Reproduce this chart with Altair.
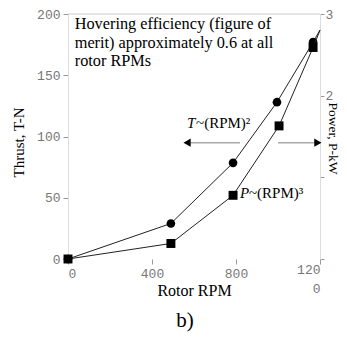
import altair as alt
import pandas as pd

# ---- data ----
rpm_thrust = [0, 490, 786, 995, 1167, 1200]
thrust_N = [0, 29, 78.5, 128, 177, 187]
rpm_power = [0, 490, 786, 1005, 1167, 1200]
power_kW = [0, 0.19, 0.78, 1.63, 2.59, 2.8]
marked = [True, True, True, True, True, False]

x_ticks = [0, 400, 800, 1200]
left_ticks = [0, 50, 100, 150, 200]
right_ticks = [0, 1, 2, 3]

hover_text = "Hovering efficiency (figure of\nmerit) approximately 0.6 at all\nrotor RPMs"
law_italic = ["T", "P"]
law_rest = ["~(RPM)²", "~(RPM)³"]
law_x = [567, 819]
law_T = [111, 54]

arrow_tip_x = [567, 1190]
arrow_tail_x = [819, 1000]
arrow_T = [95, 95]
arrow_shape = ["triangle-left", "triangle-right"]

serif = "'Liberation Serif', 'Times New Roman', 'DejaVu Serif', serif"
mono = "'Liberation Mono', 'DejaVu Sans Mono', monospace"

thrust = pd.DataFrame({"x": rpm_thrust, "T": thrust_N, "m": marked})
power = pd.DataFrame({"x": rpm_power, "P": power_kW, "m": marked})
laws = pd.DataFrame({"x": law_x, "T": law_T, "i": law_italic, "r": law_rest})
arrows = pd.DataFrame({"x": arrow_tip_x, "x2": arrow_tail_x, "T": arrow_T, "s": arrow_shape})
hover = pd.DataFrame({"x": [32], "T": [198], "t": [hover_text]})
top = pd.DataFrame({"x": [0], "x2": [1200], "T": [200]})

xs = alt.Scale(domain=[0, 1200], nice=False, zero=False)
ts = alt.Scale(domain=[0, 200], nice=False)
ps = alt.Scale(domain=[0, 3], nice=False)

x_axis = alt.Axis(values=x_ticks, domain=False, tickSize=5, tickColor="#999",
                  labelFont=mono, labelFontSize=13, labelColor="#777", labelLineHeight=19,
                  labelPadding={"condition": {"test": "datum.value == 1200", "value": -1}, "value": 3},
                  labelExpr="datum.value == 1200 ? ['120', '  0'] : datum.label",
                  title="Rotor RPM", titleFont=serif, titleFontSize=16,
                  titleFontWeight="normal", titleColor="black",
                  titleBaseline="middle", titleY=31)
left_axis = alt.Axis(values=left_ticks, tickSize=5, tickColor="#999", domainColor="#ddd",
                     labelFont=mono, labelFontSize=13, labelColor="#777", labelPadding=3,
                     title="Thrust, T-N", titleFont=serif, titleFontSize=15,
                     titleFontWeight="normal", titleColor="black", titlePadding=10, titleY=128)
right_axis = alt.Axis(values=right_ticks, orient="right", tickSize=4, tickColor="#999",
                      domainColor="#ddd", labelFont=mono, labelFontSize=13, labelColor="#777",
                      labelPadding=1, labelExpr="datum.value >= 2 ? datum.label : ''",
                      title="Power, P-kW", titleFont=serif, titleFontSize=13.5,
                      titleFontWeight="normal", titleColor="black",
                      titleBaseline="middle", titleX=12, titleY=124)

X = alt.X("x:Q", scale=xs, axis=x_axis)
YT = alt.Y("T:Q", scale=ts, axis=left_axis)
YP = alt.Y("P:Q", scale=ps, axis=right_axis)

top_rule = alt.Chart(top).mark_rule(color="#ccc", strokeWidth=1).encode(
    x=X, x2="x2:Q", y=YT)
t_line = alt.Chart(thrust).mark_line(color="#222", strokeWidth=1).encode(
    x=X, y=YT, order="x:Q")
t_pts = alt.Chart(thrust).transform_filter("datum.m").mark_circle(
    color="black", opacity=1, size=75).encode(x=X, y=YT)
hover_txt = alt.Chart(hover).mark_text(
    align="left", baseline="top", font=serif, fontSize=16.3, lineBreak="\n",
    lineHeight=18.5, color="black").encode(x=X, y=YT, text="t:N")
law_i = alt.Chart(laws).mark_text(
    align="left", baseline="middle", font=serif, fontSize=15, fontStyle="italic",
    color="black").encode(x=X, y=YT, text="i:N")
law_r = alt.Chart(laws).mark_text(
    align="left", baseline="middle", font=serif, fontSize=15, color="black", dx=9).encode(
    x=X, y=YT, text="r:N")
arr_line = alt.Chart(arrows).mark_rule(color="#aaa", strokeWidth=1.5).encode(
    x=X, x2="x2:Q", y=YT)
arr_head = alt.Chart(arrows).mark_point(filled=True, color="black", opacity=1, size=70).encode(
    x=X, y=YT, shape=alt.Shape("s:N", scale=None))

left = alt.layer(top_rule, t_line, t_pts, hover_txt, law_i, law_r, arr_line, arr_head)

p_line = alt.Chart(power).mark_line(color="#222", strokeWidth=1).encode(
    x=X, y=YP, order="x:Q")
p_pts = alt.Chart(power).transform_filter("datum.m").mark_square(
    color="black", opacity=1, size=80).encode(x=X, y=YP)
right = alt.layer(p_line, p_pts)

chart = alt.layer(left, right).resolve_scale(y="independent").properties(
    width=252, height=245,
    autosize=alt.AutoSizeParams(type="none"),
    padding={"left": 60, "top": 6, "right": 19, "bottom": 74},
    title=alt.TitleParams("b)", orient="bottom", font=serif, fontSize=21,
                          fontWeight="normal", color="black", dx=-9, offset=12),
).configure_view(stroke=None).configure_axis(grid=False)

chart.save("out.html", embed_options={"renderer": "svg", "actions": False})
